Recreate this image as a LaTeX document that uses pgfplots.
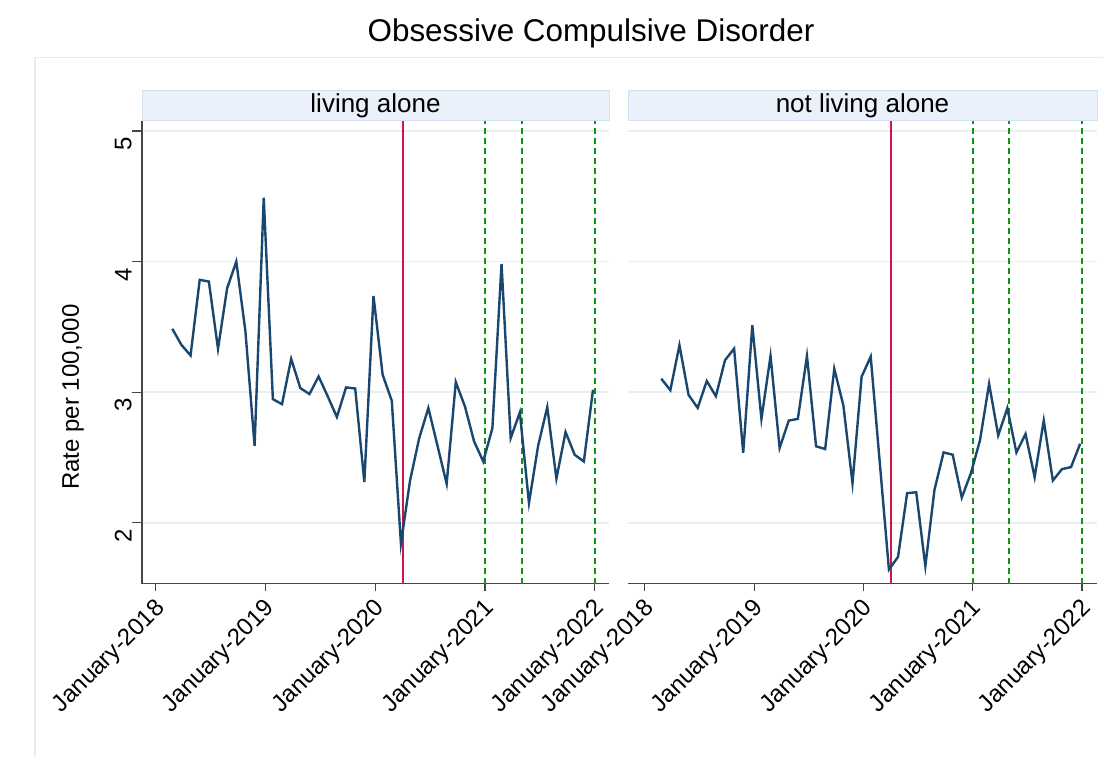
\documentclass[border=0pt]{standalone}
\usepackage{fontspec}
\setmainfont{Liberation Sans}
\usepackage{pgfplots}
\usepackage{pgfplotstable}
\pgfplotsset{compat=1.18}

\definecolor{navy}{RGB}{26,71,111}
\definecolor{refred}{RGB}{206,22,74}
\definecolor{refgreen}{RGB}{20,145,20}
\definecolor{gridc}{RGB}{232,240,244}
\definecolor{stripfill}{RGB}{234,241,250}
\definecolor{stripedge}{RGB}{212,225,238}
\definecolor{regionedge}{RGB}{226,237,240}
\definecolor{axisc}{RGB}{70,70,70}

% monthly rates, months counted from January 2018
\pgfplotstableread{
x y
1.8 3.485
2.8 3.362
3.8 3.281
4.8 3.860
5.8 3.847
6.8 3.332
7.8 3.796
8.8 4.000
9.8 3.464
10.8 2.589
11.8 4.490
12.8 2.946
13.8 2.908
14.8 3.255
15.8 3.031
16.8 2.985
17.8 3.120
18.8 2.967
19.8 2.809
20.8 3.036
21.8 3.028
22.8 2.311
23.8 3.737
24.8 3.133
25.8 2.934
26.8 1.839
27.8 2.324
28.8 2.648
29.8 2.878
30.8 2.589
31.8 2.298
32.8 3.077
33.8 2.890
34.8 2.622
35.8 2.469
36.8 2.724
37.8 3.982
38.8 2.648
39.8 2.844
40.8 2.151
41.8 2.589
42.8 2.885
43.8 2.337
44.8 2.694
45.8 2.520
46.8 2.469
47.8 3.018
}\alonetab

\pgfplotstableread{
x y
1.8 3.103
2.8 3.015
3.8 3.359
4.8 2.979
5.8 2.879
6.8 3.085
7.8 2.969
8.8 3.244
9.8 3.333
10.8 2.536
11.8 3.513
12.8 2.795
13.8 3.277
14.8 2.572
15.8 2.782
16.8 2.795
17.8 3.277
18.8 2.585
19.8 2.564
20.8 3.179
21.8 2.897
22.8 2.303
23.8 3.118
24.8 3.272
25.8 2.456
26.8 1.641
27.8 1.738
28.8 2.226
29.8 2.233
30.8 1.667
31.8 2.251
32.8 2.538
33.8 2.521
34.8 2.192
35.8 2.379
36.8 2.631
37.8 3.064
38.8 2.669
39.8 2.877
40.8 2.538
41.8 2.679
42.8 2.349
43.8 2.782
44.8 2.323
45.8 2.410
46.8 2.426
47.8 2.605
}\nonalonetab

\pgfplotsset{
  panel/.style={
    scale only axis, height=231.4pt,
    ymin=1.534, ymax=5.079,
    ytick={2,3,4,5},
    xtick={0,12,24,36,48},
    xticklabels={January-2018,January-2019,January-2020,January-2021,January-2022},
    ymajorgrids, grid style={gridc, line width=0.9pt},
    axis x line*=bottom, axis y line*=left,
    axis line style={draw=axisc, line width=0.6pt},
    tick align=outside, major tick length=5pt,
    tick style={axisc, line width=0.6pt},
    xtick style={/pgfplots/major tick length=3.5pt},
    xticklabel style={rotate=45, anchor=north east, inner sep=1pt, xshift=-1pt, yshift=0.5pt, font=\fontsize{12}{14}\selectfont},
    yticklabel style={rotate=90, anchor=south, inner sep=0pt, xshift=-6.5pt, font=\fontsize{12}{14}\selectfont},
    /pgf/number format/assume math mode=true,
    every axis title/.style={at={(rel axis cs:0.5,1)}, anchor=south,
      draw=stripedge, fill=stripfill, line width=0.5pt,
      minimum width=\pgfkeysvalueof{/pgfplots/width}, minimum height=14.85pt,
      inner sep=0pt, font=\fontsize{13}{15}\selectfont},
  },
  series/.style={navy, line width=1.2pt, no marks},
  covid/.style={refred, line width=1pt, no marks, forget plot},
  later/.style={refgreen, line width=1pt, dash pattern=on 3pt off 2pt, no marks, forget plot},
}

\begin{document}
\begin{tikzpicture}
\useasboundingbox (0,0) rectangle (551.5pt,-378pt);
\draw[regionedge, line width=0.6pt] (17.5pt,-28.65pt) rectangle (600pt,-420pt);
\node[anchor=base, font=\fontsize{15.7}{19}\selectfont] at (295.5pt,-20.85pt) {Obsessive Compulsive Disorder};
\node[rotate=90, font=\fontsize{12}{14}\selectfont] at (36.5pt,-198.5pt) {Rate per 100,000};

\begin{axis}[panel, width=233.5pt, at={(71pt,-291.75pt)}, anchor=south west,
  xmin=-1.51, xmax=49.55, title={living alone}]
  \addplot[covid] coordinates {(27,1.534) (27,5.079)};
  \addplot[later] coordinates {(36,1.534) (36,5.079)};
  \addplot[later] coordinates {(40,1.534) (40,5.079)};
  \addplot[later] coordinates {(48,1.534) (48,5.079)};
  \addplot[series] table[x=x, y=y] {\alonetab};
\end{axis}

\begin{axis}[panel, width=234.5pt, at={(314pt,-291.75pt)}, anchor=south west,
  xmin=-1.85, xmax=49.65, title={not living alone},
  y axis line style={draw=none}, ytick style={draw=none}, yticklabels={}]
  \addplot[covid] coordinates {(27,1.534) (27,5.079)};
  \addplot[later] coordinates {(36,1.534) (36,5.079)};
  \addplot[later] coordinates {(40,1.534) (40,5.079)};
  \addplot[later] coordinates {(48,1.534) (48,5.079)};
  \addplot[series] table[x=x, y=y] {\nonalonetab};
\end{axis}
\end{tikzpicture}
\end{document}
